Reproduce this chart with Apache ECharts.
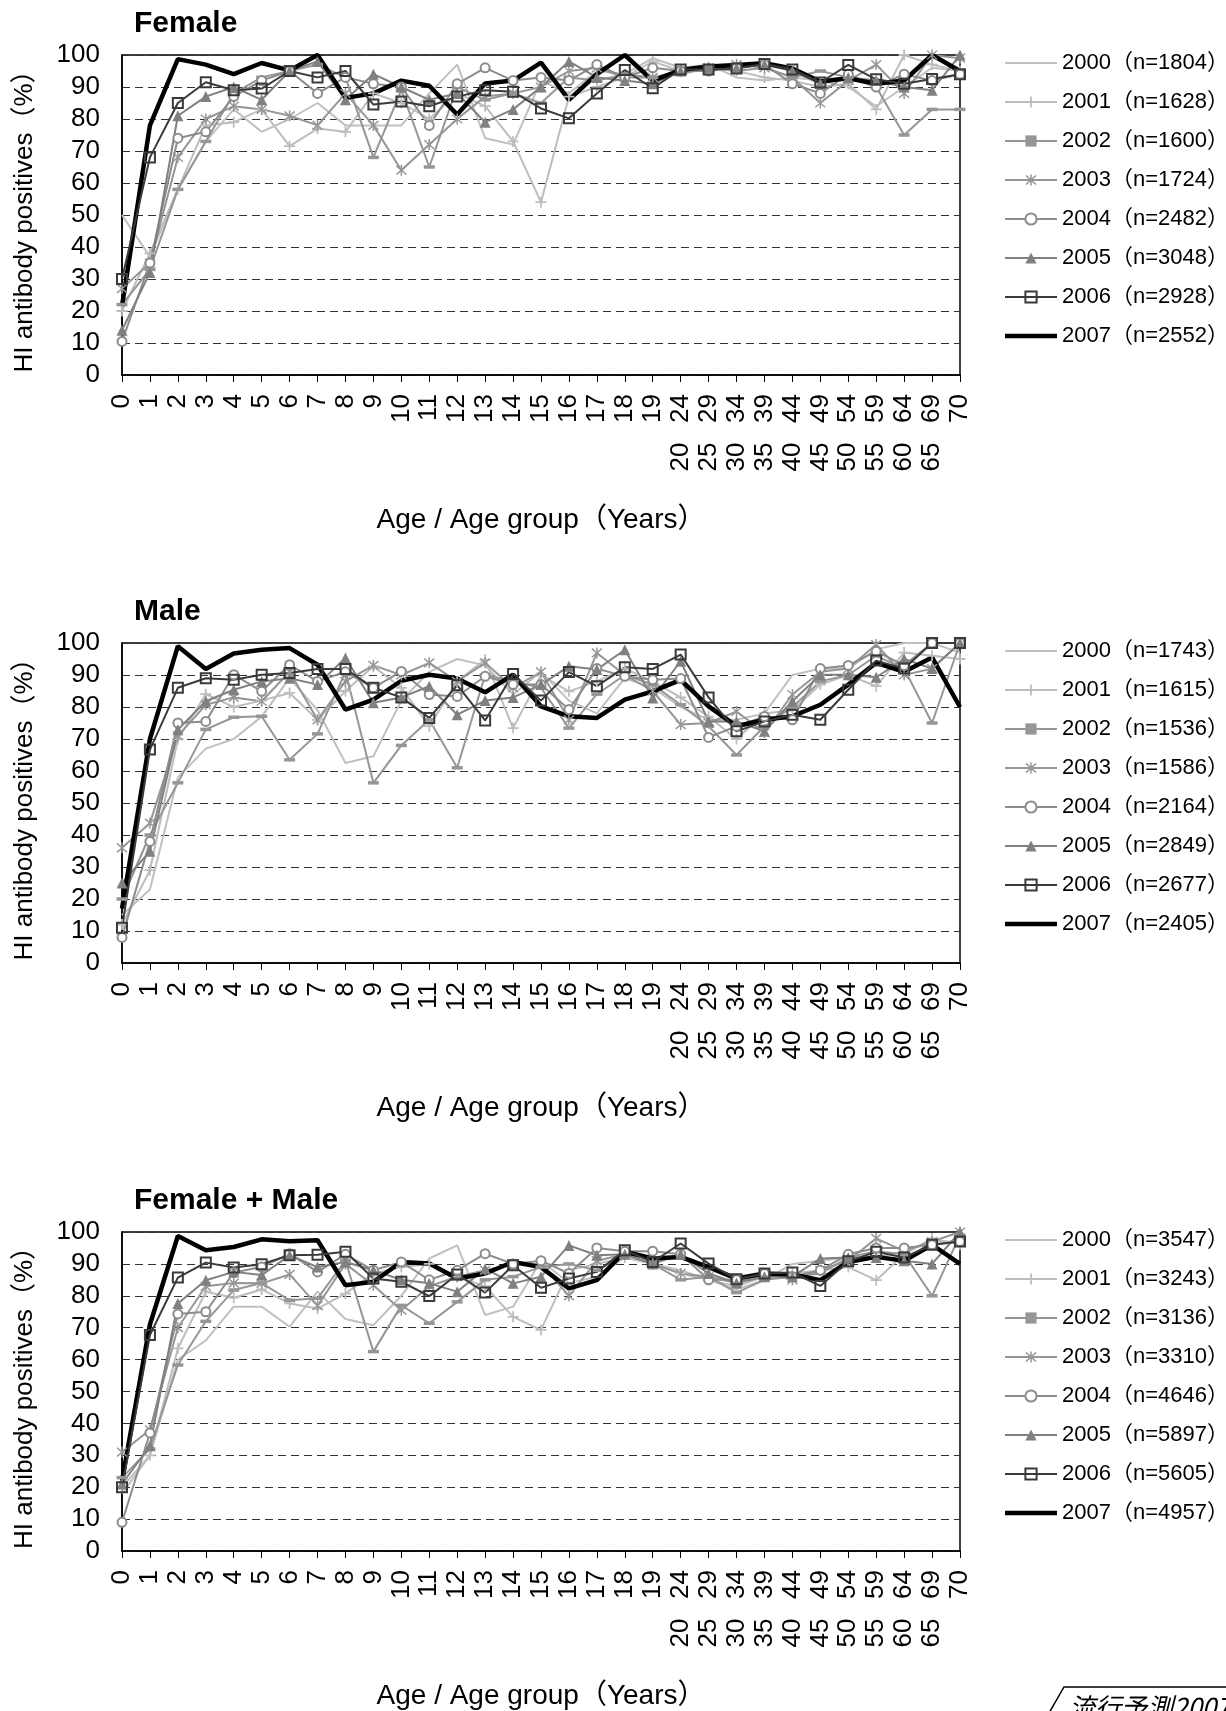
<!DOCTYPE html>
<html><head><meta charset="utf-8">
<script src="https://cdn.jsdelivr.net/npm/echarts@6/dist/echarts.min.js"></script>
<style>html,body{margin:0;padding:0;background:#fff}#c{width:1226px;height:1711px}</style>
</head><body><div id="c"></div>
<script>
// ---------- data ----------
const categories = ['0','1','2','3','4','5','6','7','8','9','10','11','12','13','14','15','16','17','18','19',
  '20-24','25-29','30-34','35-39','40-44','45-49','50-54','55-59','60-64','65-69','70'];
const yTicks = [0,10,20,30,40,50,60,70,80,90,100];
const years = ['2000','2001','2002','2003','2004','2005','2006','2007'];
const panelTitles = ['Female','Male','Female + Male'];
const nFemale = [1804,1628,1600,1724,2482,3048,2928,2552];
const nMale   = [1743,1615,1536,1586,2164,2849,2677,2405];
const nTotal  = [3547,3243,3136,3310,4646,5897,5605,4957];

// Female
const F2000 = [50,37,58,73,83,76,80,85,78,78,78,88,97,74,72,92,88,95,94,99,96,97,93,92,93,92,90,84,90,96,95];
const F2001 = [20,38,58,78,79,83,71.5,77,76,88,85,80,88,84,73,54,87,90,93,98,95,96,95,93,92,90,91,83,100,97,95];
const F2002 = [22,33,58,73,88,93,95,97,93,68,89,65,90,86,88,85,93,92,94,93,94,96,95,96,93,95,93,90,75,83,83];
const F2003 = [27,35,68,80,84,83,81,78,88,78,64,72,80,87,88,90,95,96,93,93,95,96,97,96,93,85,92,97,88,100,99];
const F2004 = [10.5,35,74,76,87,92,95,88,93,91,90,78,91,96,92,93,92,97,93,96,95,95,96,97,91,88,94,90,94,92,94];
const F2005 = [14,32,81,87,90,86,95,98,86,94,90,86,88,79,83,90,98,93,92,91,95,96,96,97,95,91,93,92,90,89,100];
const F2006 = [30,68,85,91.5,89,89.5,95,93,95,84.5,85.5,84,87,89,88.5,83.3,80.2,88,95.3,89.6,95.5,95.5,95.8,97.2,95.5,91.4,96.9,92.4,91,92.5,94];
const F2007 = [21.5,78,98.7,97,94,97.5,95.2,100,86.6,88,92,90.4,81.4,91.1,92,97.6,86,94,100,92,95.3,96.4,96.9,97.4,95.8,91.7,92.7,91,92,100,95];

// Male
const M2000 = [15,23,58,67,70,77,89,79,62.5,64.6,82,91,95,93,84,91,82,78,89,86,80,76,76,78,90,92,92,98,100,100,97];
const M2001 = [12,29,70,84,80,82,84.4,76,85,92.7,86,74,88,94.8,73.4,90,84.9,88,92,88,83,77,70,78,79,87,90,86.5,97,96,95];
const M2002 = [20,40,56.3,73,76.8,77.1,63.5,71.6,91,56.3,68,76,61,90,88,86,73.4,84,90,87,80.7,74,65,74,80,88,90,96,92,75,100];
const M2003 = [36,43.7,71,80.7,83,81.8,91,76,88,93,90,93.8,88,93.8,86,91,76,96.9,90,85,74.5,75,78.6,72,83.9,91,92,99.5,90,92,100];
const M2004 = [8,38,75,75.5,90.1,84.9,93.2,88,91,86,91.1,83.9,83.3,89.6,87,87,79.2,92,89.6,88.5,88.9,70.5,74,77,76,92,93,97.4,93,100,100];
const M2005 = [25,34.9,72.9,81.8,85.4,88,89,87,95.3,81.3,83,86.5,77.6,82,83,87,92.7,91.7,97.9,82.8,94.3,75.5,75.5,72.4,81.8,90.1,90.1,89.3,95,92,100];
const M2006 = [11,66.7,86,89,88.5,90.1,90.6,91.9,91.9,86,83,76.6,86.8,75.8,90.3,82,90.9,86.5,92.4,91.9,96.4,83,72.4,75.5,77.6,76,85.4,94.5,92,100,100];
const M2007 = [17,70,99,91.9,96.7,97.9,98.4,93.2,79.2,82.3,88.2,90.1,88.9,84.6,90.1,80.2,77.1,76.6,82.3,84.9,88.5,80.2,74,76,77.1,80.7,87,93.8,91,95.5,80];

// Female + Male
const T2000 = [18,30,60,66,76.6,76.6,70.3,81.3,72.7,70.8,80,91.7,95.8,74,76.6,91,84,86,92,90,88,85,82,85,90,91,92,92,94,97,97];
const T2001 = [20,30,63.5,81.3,79.4,82,77.6,76,80.7,87,89,90,86,83,73.4,69.3,88,90,92,90,87,85,83,86,87,88,89,84.9,93,98,96];
const T2002 = [23,32,58.3,72,81.8,84,78.6,79.2,91,62.5,77,71.4,78.1,85,86,89,90,88,93,90,85,86,81,85,86,87,92,94,93,80,99];
const T2003 = [31,38,70,83,84,83.9,86.7,76.9,90,83.3,75.5,83,86,88,90,90,80,91,93,90,87,86,84,87,85,88,91,98,94,97,100];
const T2004 = [9,37,74.3,75,87.3,89,93.2,87.5,93,88,90.6,85,88,93.2,90,91,87,95,94,94,93,85,85,87,86,88,93,95,95,96,97];
const T2005 = [21,33,77.6,84.9,87.5,86.5,92.7,89,90.6,88,85,83.9,81.3,88.5,83.9,86,95.8,92.7,93,90,93,87,84,86,86,91.7,92,92,91,90,100];
const T2006 = [20,67.7,85.7,90.4,88.9,89.9,92.7,92.9,93.8,85.4,84.4,79.9,86.7,81,89.6,82.5,85.4,87.5,94.3,90.6,96.4,90.1,85.2,87,87.3,83.1,90.8,93.8,92,96,97];
const T2007 = [22,71,98.75,94.3,95.3,97.7,97.1,97.4,83.3,84.4,90.6,90.1,85.4,87,90.6,89,82.3,84.9,93.8,91.7,92.2,89,85.4,87,86.7,84.9,90.6,92.2,91,96,90];

const panelData = [
  [F2000,F2001,F2002,F2003,F2004,F2005,F2006,F2007],
  [M2000,M2001,M2002,M2003,M2004,M2005,M2006,M2007],
  [T2000,T2001,T2002,T2003,T2004,T2005,T2006,T2007]
];
const panelN = [nFemale, nMale, nTotal];

// ---------- styles ----------
const FONT = "'Liberation Sans', Arial, 'Noto Sans CJK JP', sans-serif";
const PLUS = 'path://M4.2,0H5.8V4.2H10V5.8H5.8V10H4.2V5.8H0V4.2H4.2Z';
const AST = 'path://M4.4,0H5.6V10H4.4Z M0.6,1.45L1.45,0.6L9.4,8.55L8.55,9.4Z M8.55,0.6L9.4,1.45L1.45,9.4L0.6,8.55Z';
const styles = [
  {color:'#c0c0c0', symbol:'none', size:0, width:2, icon:'path://M0,0H52V2.2H0Z'},
  {color:'#bdbdbd', symbol:PLUS, size:11, width:2},
  {color:'#969696', symbol:'rect', size:[11,3.5], width:2},
  {color:'#969696', symbol:AST, size:11, width:2},
  {color:'#8c8c8c', symbol:'circle', size:9, fill:'#ffffff', border:true, width:2},
  {color:'#808080', symbol:'triangle', size:11, width:2},
  {color:'#3a3a3a', symbol:'rect', size:10, fill:'rgba(255,255,255,0)', border:true, width:2},
  {color:'#000000', symbol:'none', size:0, width:4.5, icon:'path://M0,0H52V4.5H0Z'}
];

const gridTops = [55, 643, 1232];
const gridH = 320;

const option = {
  animation:false,
  backgroundColor:'#fff',
  title: panelTitles.map((t,i)=>({
    text:t, left:134, top:gridTops[i]-46, padding:0,
    textStyle:{fontSize:30, fontWeight:'bold', color:'#000', fontFamily:FONT}
  })),
  grid: gridTops.map(t=>({left:122, top:t, width:838, height:gridH, show:true, borderColor:'#000', borderWidth:1.5, containLabel:false})),
  legend: gridTops.map((t,i)=>({
    orient:'vertical', left:1004, top:t-3, padding:0, itemGap:17, itemWidth:52, itemHeight:14,
    textStyle:{fontSize:22, lineHeight:22, color:'#000', fontFamily:FONT},
    data: years.map((y,k)=>{
      const item = {name: y+'（n='+panelN[i][k]+'）'};
      if (styles[k].icon) item.icon = styles[k].icon;
      return item;
    }),
    selectedMode:false
  })),
  xAxis: gridTops.map((t,i)=>({
    type:'category', gridIndex:i, data:categories, boundaryGap:false,
    axisLine:{lineStyle:{color:'#000', width:1.5}},
    axisTick:{show:true, length:7, lineStyle:{color:'#000'}},
    axisLabel:{rotate:90, interval:0, fontSize:26, color:'#000', margin:19, fontFamily:FONT,
      formatter:v=>v.replace('-', '  \u2009')},
    name:'Age / Age group（Years）', nameLocation:'middle', nameGap:131,
    nameTextStyle:{fontSize:28, color:'#000', fontFamily:FONT}
  })),
  yAxis: gridTops.map((t,i)=>({
    type:'value', gridIndex:i, min:yTicks[0], max:yTicks[yTicks.length-1], interval:yTicks[1]-yTicks[0],
    axisLine:{show:true, lineStyle:{color:'#000', width:1.5}},
    axisTick:{show:false},
    splitLine:{show:true, lineStyle:{color:'#333', width:1, type:[8,5]}},
    axisLabel:{fontSize:26, color:'#000', margin:22, fontFamily:FONT},
    name:'HI antibody positives（%）', nameLocation:'middle', nameGap:84, nameRotate:90,
    nameTextStyle:{fontSize:26, color:'#000', fontFamily:FONT}
  })),
  graphic:[
    {type:'polyline', shape:{points:[[1049,1713],[1064,1687],[1230,1687]]}, style:{stroke:'#000', lineWidth:1.5, fill:null}},
    {type:'text', left:1069, top:1694, style:{text:'流行予測2007', font:"italic 26px 'Noto Sans CJK JP'", fill:'#000'}}
  ],
  series: []
};

const order = [0,1,2,3,4,5,7,6];
panelData.forEach((arr, p)=>{
  order.forEach(k=>{
    const s = styles[k];
    option.series.push({
      type:'line', xAxisIndex:p, yAxisIndex:p,
      name: years[k]+'（n='+panelN[p][k]+'）',
      data: arr[k],
      symbol: s.symbol, symbolSize: s.size, showSymbol: s.symbol!=='none', showAllSymbol:true,
      lineStyle:{color:s.color, width:s.width},
      itemStyle: s.border ? {color:s.fill, borderColor:s.color, borderWidth:2} : {color:s.color, borderWidth:0},
      emphasis:{disabled:true}, silent:true
    });
  });
});

const chart = echarts.init(document.getElementById('c'));
chart.setOption(option);
</script></body></html>
